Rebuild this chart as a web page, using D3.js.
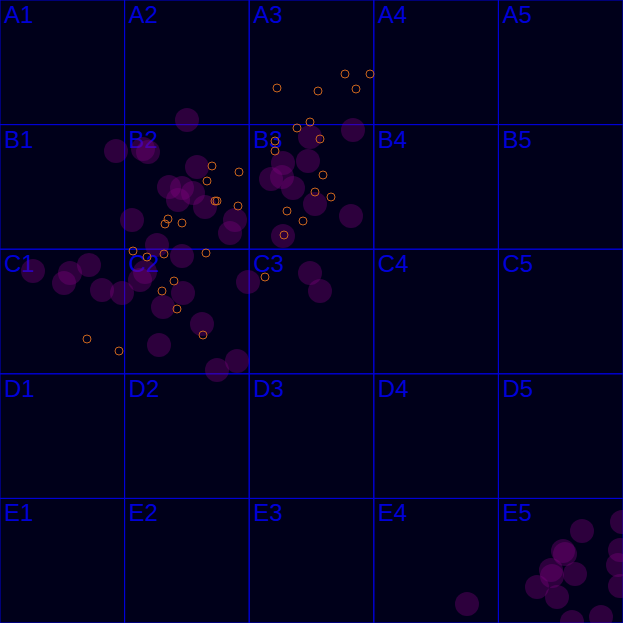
<!DOCTYPE html>
<html>
<head>
<meta charset="utf-8">
<script src="https://cdn.jsdelivr.net/npm/d3@7"></script>
<style>
html,body{margin:0;padding:0;background:#00001a;}
svg{display:block;}
</style>
</head>
<body>
<div id="chart"></div>
<script>
// Grid categories
const rows = ["A","B","C","D","E"];
const cols = ["1","2","3","4","5"];

// Large translucent points (x, y in a 0–623 data space)
const bigX = [187,116,143,148,197,169,182,178,193,205,132,235,230,157,182,145,140,33,70,89,64,102,122,183,163,202,159,237,217,248,353,310,308,283,271,282,293,315,351,283,310,320,467,582,622,563,565,551,552,575,537,557,601,572,620,618,620];
const bigY = [120,151,149,152,167,187,188,200,193,207,220,220,233,245,256,272,280,271,273,265,283,290,293,293,307,324,345,361,370,282,130,137,161,163,179,177,188,204,216,236,273,291,604,531,522,551,554,570,576,574,587,597,617,622,550,565,586];

// Small hollow points
const smallX = [277,318,345,370,356,310,297,320,275,275,212,239,207,323,315,331,215,217,238,287,303,168,165,182,284,133,147,164,206,265,174,162,177,203,87,119];
const smallY = [88,91,74,74,89,122,128,139,141,151,166,172,181,175,192,197,201,201,206,211,221,219,224,223,235,251,257,254,253,277,281,291,309,335,339,351];

const W = 623, H = 623;
const svg = d3.select("#chart").append("svg").attr("width", W).attr("height", H);
svg.append("rect").attr("width", W).attr("height", H).attr("fill", "#00001a");

const x = d3.scaleLinear().domain([0, 623]).range([0, W]);
const y = d3.scaleLinear().domain([0, 623]).range([0, H]);
const bx = d3.scaleBand().domain(cols).range([0, W]);
const by = d3.scaleBand().domain(rows).range([0, H]);

const cells = [];
rows.forEach(r => cols.forEach(c => cells.push({r, c})));

const g = svg.append("g");
g.selectAll("rect.cell").data(cells).join("rect")
  .attr("class","cell")
  .attr("x", d => bx(d.c)).attr("y", d => by(d.r))
  .attr("width", bx.bandwidth()).attr("height", by.bandwidth())
  .attr("fill","none").attr("stroke","#0000d8").attr("stroke-width",1);

g.selectAll("text.lab").data(cells).join("text")
  .attr("class","lab")
  .attr("x", d => bx(d.c) + 4).attr("y", d => by(d.r) + 23)
  .attr("fill","#0000d8")
  .attr("font-family","Liberation Sans, Arial, sans-serif")
  .attr("font-size", 24)
  .text(d => d.r + d.c);

const big = bigX.map((v,i) => ({x:v, y:bigY[i]}));
svg.append("g").selectAll("circle").data(big).join("circle")
  .attr("cx", d => x(d.x)).attr("cy", d => y(d.y)).attr("r", 12)
  .attr("fill","#800080").attr("fill-opacity",0.35);

const small = smallX.map((v,i) => ({x:v, y:smallY[i]}));
svg.append("g").selectAll("circle").data(small).join("circle")
  .attr("cx", d => x(d.x)).attr("cy", d => y(d.y)).attr("r", 4)
  .attr("fill","none").attr("stroke","#c8641e").attr("stroke-width",1);
</script>
</body>
</html>
